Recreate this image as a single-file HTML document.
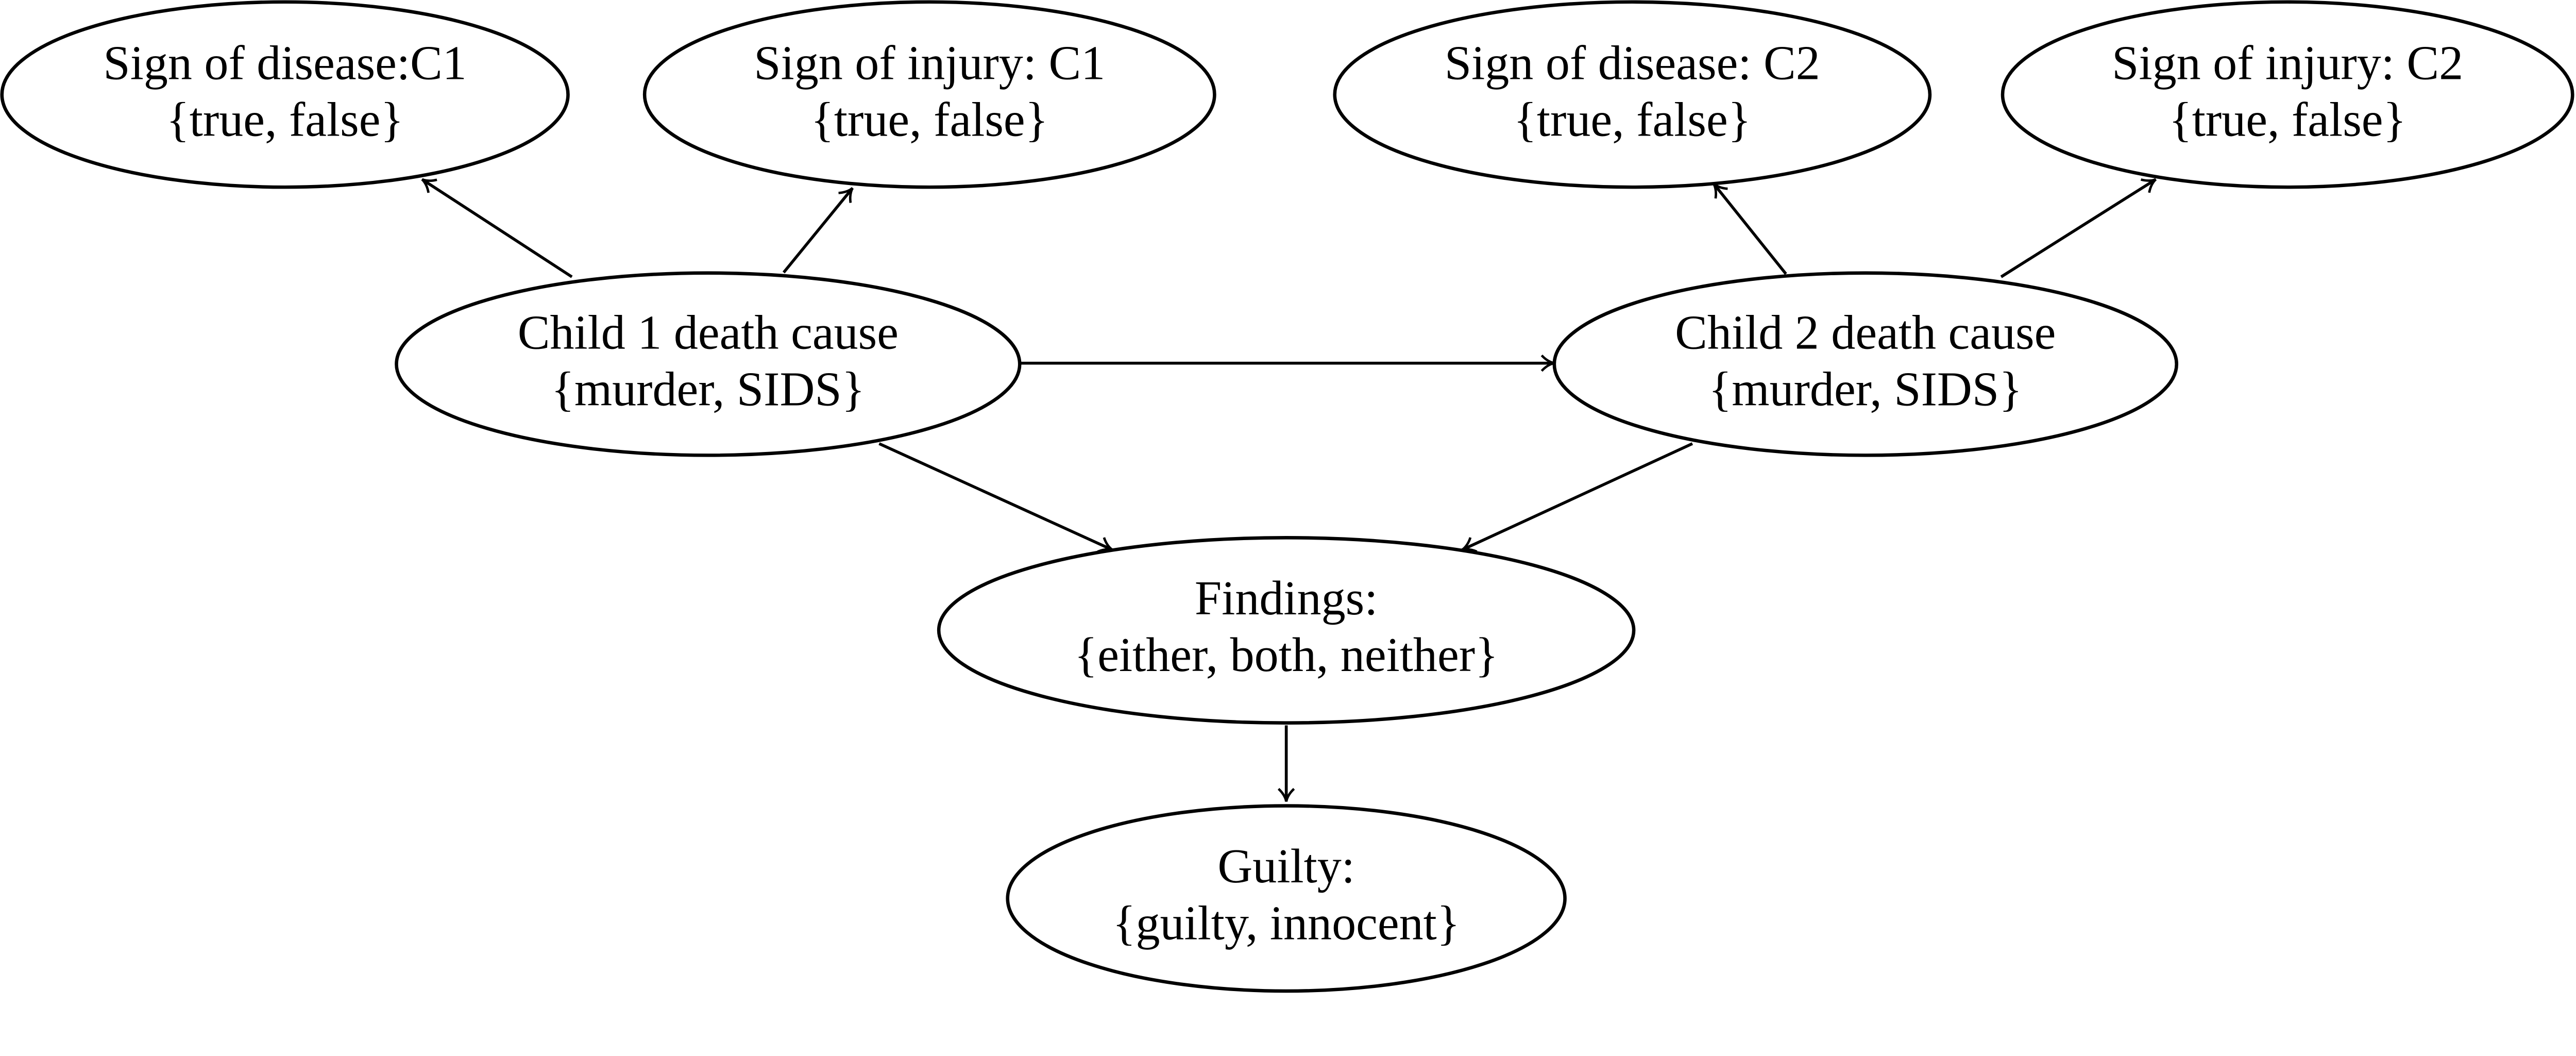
<!DOCTYPE html>
<html><head><meta charset="utf-8"><style>html,body{margin:0;padding:0;background:#fff;overflow:hidden;width:5315px;height:2049px}svg{display:block}</style></head>
<body>
<svg width="5315" height="2049" viewBox="0 0 5650 2178" preserveAspectRatio="none" xmlns="http://www.w3.org/2000/svg">
<defs><marker id="a" markerWidth="50" markerHeight="50" refX="40" refY="25" orient="auto" markerUnits="userSpaceOnUse">
<path d="M14,9 Q26,22 40,25 Q26,28 14,41" fill="none" stroke="#000" stroke-width="5"/></marker></defs>
<g fill="none" stroke="#000" stroke-width="7">
<ellipse cx="588" cy="195" rx="584" ry="191"/>
<ellipse cx="1918" cy="195" rx="588" ry="191"/>
<ellipse cx="3368" cy="195" rx="614" ry="191"/>
<ellipse cx="4720" cy="195" rx="588" ry="191"/>
<ellipse cx="1461" cy="751" rx="643" ry="188"/>
<ellipse cx="3849" cy="751" rx="642" ry="188"/>
<ellipse cx="2654" cy="1300" rx="717" ry="191"/>
<ellipse cx="2654" cy="1853" rx="575" ry="191"/>
</g>
<g stroke="#000" stroke-width="6" marker-end="url(#a)">
<line x1="1180" y1="571" x2="871" y2="370"/>
<line x1="1617" y1="562" x2="1759" y2="388"/>
<line x1="2105" y1="749" x2="3207" y2="749"/>
<line x1="3685" y1="565" x2="3536" y2="379"/>
<line x1="4129" y1="571" x2="4448" y2="370"/>
<line x1="1814" y1="915" x2="2295" y2="1134"/>
<line x1="3492" y1="915" x2="3017" y2="1134"/>
<line x1="2654" y1="1496" x2="2654" y2="1653"/>
</g>
<g font-family="Liberation Serif, serif" font-size="100" text-anchor="middle" fill="#000">
<text x="588" y="163">Sign of disease:C1</text><text x="588" y="280">{true, false}</text>
<text x="1918" y="163">Sign of injury: C1</text><text x="1918" y="280">{true, false}</text>
<text x="3368" y="163">Sign of disease: C2</text><text x="3368" y="280">{true, false}</text>
<text x="4720" y="163">Sign of injury: C2</text><text x="4720" y="280">{true, false}</text>
<text x="1461" y="719">Child 1 death cause</text><text x="1461" y="836">{murder, SIDS}</text>
<text x="3849" y="719">Child 2 death cause</text><text x="3849" y="836">{murder, SIDS}</text>
<text x="2654" y="1267">Findings:</text><text x="2654" y="1384">{either, both, neither}</text>
<text x="2654" y="1820">Guilty:</text><text x="2654" y="1937">{guilty, innocent}</text>
</g>
</svg>
</body></html>
